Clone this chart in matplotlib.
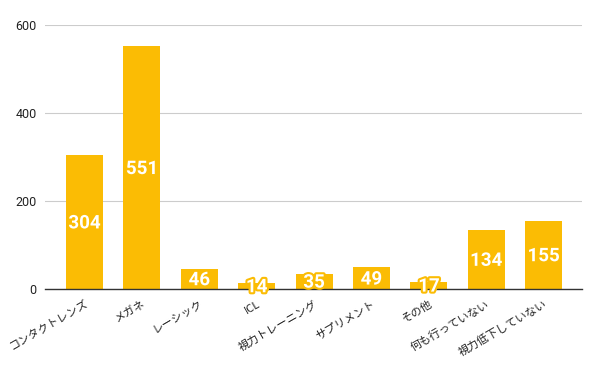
import matplotlib.pyplot as plt
import matplotlib.patheffects as path_effects

plt.rcParams['font.family'] = ['Noto Sans CJK JP', 'DejaVu Sans']

categories = ['コンタクトレンズ', 'メガネ', 'レーシック', 'ICL', '視力トレーニング',
              'サプリメント', 'その他', '何も行っていない', '視力低下していない']
values = [304, 551, 46, 14, 35, 49, 17, 134, 155]
yticks = [0, 200, 400, 600]

bar_color = '#fbbc04'

fig = plt.figure(figsize=(6, 3.71), dpi=100)
ax = fig.add_axes([0.075, 0.221, 0.895, 0.712])

x = list(range(len(categories)))
ax.bar(x, values, width=0.645, color=bar_color, zorder=2)

for xi, v in zip(x, values):
    t = ax.text(xi, v / 2 - 3, str(v), ha='center', va='center', color='white',
                fontsize=13.5, fontweight='bold', family='Roboto', zorder=5)
    t.set_path_effects([path_effects.Stroke(linewidth=3, foreground=bar_color),
                        path_effects.Normal()])

ax.set_xlim(-0.69, 8.67)
ax.set_ylim(0, 600)
ax.set_yticks(yticks)
ax.set_yticklabels([str(v) for v in yticks], fontsize=9, color='#222222', family='Roboto')
ax.set_xticks(x)
ax.set_xticklabels(categories, rotation=30, ha='right', rotation_mode='anchor',
                   fontsize=8, color='#222222')
ax.tick_params(axis='both', length=0, pad=6)
ax.tick_params(axis='x', pad=7)

ax.grid(axis='y', color='#cccccc', linewidth=0.8, zorder=0)
for s in ['top', 'right', 'left']:
    ax.spines[s].set_visible(False)
ax.spines['bottom'].set_color('#333333')
ax.spines['bottom'].set_linewidth(1)
ax.spines['bottom'].set_zorder(4)

fig.savefig('out.png', dpi=100)
